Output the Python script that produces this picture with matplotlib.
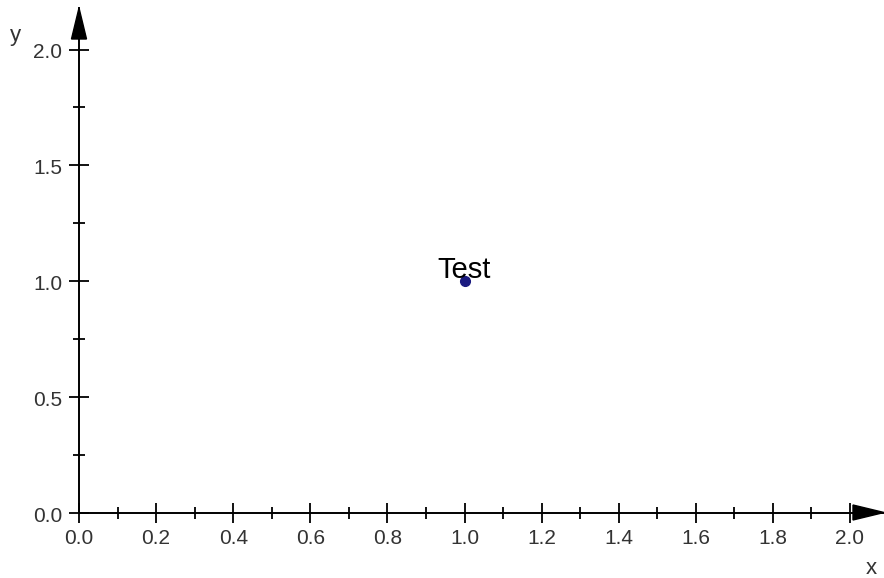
import matplotlib
matplotlib.use("Agg")
import matplotlib.pyplot as plt
from matplotlib.patches import Polygon
from matplotlib.ticker import MultipleLocator
from matplotlib.transforms import ScaledTranslation

plt.rcParams['font.family'] = ['Liberation Sans', 'DejaVu Sans']

# data
point_x = [1.0]
point_y = [1.0]
point_label = "Test"
x_ticks = [0.0, 0.2, 0.4, 0.6, 0.8, 1.0, 1.2, 1.4, 1.6, 1.8, 2.0]
y_ticks = [0.0, 0.5, 1.0, 1.5, 2.0]

fig = plt.figure(figsize=(8.84, 5.78), dpi=100)
W, H = 884, 578
x0, y0 = 79, 512.5
sx, sy = 385.5, 231.5
xmax = (W - x0) / sx
ymax = (y0 - 8) / sy
ax = fig.add_axes([x0 / W, (H - y0) / H, (W - x0) / W, (y0 - 8) / H])
ax.set_xlim(0, xmax)
ax.set_ylim(0, ymax)

for s in ['top', 'right']:
    ax.spines[s].set_visible(False)
for s in ['left', 'bottom']:
    ax.spines[s].set_linewidth(1.4)
    ax.spines[s].set_color('black')

ax.set_xticks(x_ticks)
ax.set_yticks(y_ticks)
ax.set_xticklabels(["%.1f" % v for v in x_ticks])
ax.set_yticklabels(["%.1f" % v for v in y_ticks])
ax.xaxis.set_minor_locator(MultipleLocator(0.1))
ax.yaxis.set_minor_locator(MultipleLocator(0.25))
ax.tick_params(which='major', direction='inout', length=14, width=1.3,
               colors='black', labelcolor='#333333', labelsize=15)
ax.tick_params(which='minor', direction='inout', length=8, width=1.3, colors='black')
ax.tick_params(axis='x', which='major', pad=5)
ax.tick_params(axis='y', which='major', pad=5)

# y tick labels sit a touch below their ticks
shift = ScaledTranslation(0, -1.5 / 100, fig.dpi_scale_trans)
for lab in ax.get_yticklabels():
    lab.set_transform(lab.get_transform() + shift)

# arrow heads
ah_len, ah_w = 31, 7.5
ax.add_patch(Polygon([[xmax, 0], [xmax - ah_len / sx, ah_w / sy], [xmax - ah_len / sx, -ah_w / sy]],
                     closed=True, color='black', clip_on=False, zorder=5))
ax.add_patch(Polygon([[0, ymax], [ah_w / sx, ymax - ah_len / sy], [-ah_w / sx, ymax - ah_len / sy]],
                     closed=True, color='black', clip_on=False, zorder=5))

# axis labels
fig.text(871 / W, 1 - 568 / H, "x", ha='center', va='center', fontsize=16, color='#333333')
fig.text(15 / W, 1 - 35 / H, "y", ha='center', va='center', fontsize=16, color='#333333')

ax.plot(point_x, point_y, 'o', color='#1a1a80', markersize=7, clip_on=False, zorder=6)
ax.text(point_x[0], point_y[0] + 3 / sy, point_label, ha='center', va='baseline',
        fontsize=21, color='black', zorder=7)

fig.savefig("out.png", dpi=100)
